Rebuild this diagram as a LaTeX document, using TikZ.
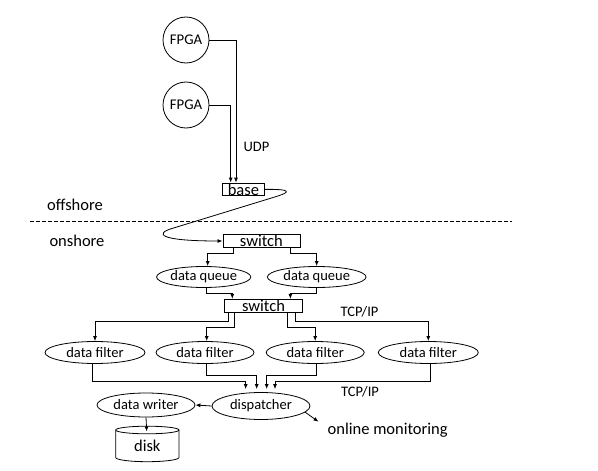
\documentclass[tikz,border=0pt]{standalone}
\usepackage{fontspec}
\setmainfont{Carlito}
\usetikzlibrary{shapes.geometric,arrows.meta}
\begin{document}
\begin{tikzpicture}[x=1pt,y=-1pt,
  line width=0.8pt,
  sm/.style={font=\fontsize{14.5}{16}\selectfont},
  bg/.style={font=\fontsize{16.5}{18}\selectfont},
  arr/.style={-{Latex[length=5pt,width=4pt]}},
  boxn/.style={draw,rectangle,inner sep=0pt,bg},
  ell/.style={draw,ellipse,inner sep=0pt,minimum height=22pt,sm},
  fpga/.style={draw,circle,inner sep=0pt,minimum size=46pt,font=\fontsize{14.8}{16}\selectfont}]
\useasboundingbox (0,0) rectangle (598,471);
% offshore
\node[fpga] (fp1) at (186,40) {FPGA};
\node[fpga] (fp2) at (186,105) {FPGA};
\node[boxn,minimum width=41.3pt,minimum height=12.7pt] (base) at (243.4,189.4) {base};
\node[sm] (udp) at (256.5,147) {UDP};
\draw[arr] (fp1.east) -| ([xshift=-7.4pt]base.north);
\draw[arr] (fp2.east) -| ([xshift=-12.7pt]base.north);
\node[bg] (off) at (75,205) {offshore};
\node[bg] (on) at (77,241) {onshore};
\coordinate (dl) at (30,221.7);
\coordinate (dr) at (512,221.7);
\draw[dash pattern=on 3.5pt off 2.5pt] (dl) -- (dr);
% onshore
\node[boxn,minimum width=77pt,minimum height=13.7pt] (sw1) at (261.4,241) {switch};
\coordinate (k1) at (278,196);
\coordinate (k2) at (172,228.5);
\draw[arr] (base.east) .. controls (292,189) and (290,192) .. (k1) -- (k2)
  .. controls (155,233.5) and (158,241) .. (sw1.west);
\node[ell,minimum width=94pt,minimum height=21pt] (q1) at (203.7,277) {data queue};
\node[ell,minimum width=98.7pt,minimum height=21pt] (q2) at (316.7,277) {data queue};
\draw[arr] ([xshift=10.6pt]sw1.south west) -- ++(0,5.6) -| ([xshift=4pt]q1.north);
\draw[arr] ([xshift=-10.3pt]sw1.south east) -- ++(0,5.6) -| (q2.north);
\node[boxn,minimum width=78.4pt,minimum height=13pt] (sw2) at (263.5,305.8) {switch};
\draw[arr] ([xshift=3pt]q1.south) -- ++(0,5.8) -| ([xshift=8.4pt]sw2.north west);
\draw[arr] (q2.south) -- ++(0,5.8) -| ([xshift=-12.7pt]sw2.north east);
\node[sm] (tcp1) at (359.5,312) {TCP/IP};
\node[ell,minimum width=100pt] (f1) at (95,352.5) {data filter};
\node[ell,minimum width=98pt] (f2) at (205,352.5) {data filter};
\node[ell,minimum width=98pt] (f3) at (315.2,352.5) {data filter};
\node[ell,minimum width=100pt] (f4) at (428.3,352.5) {data filter};
\draw[arr] ([xshift=4pt]sw2.south west) -- ++(0,8.4) -| (f1.north);
\draw[arr] ([xshift=10.7pt]sw2.south west) -- ++(0,15) -| ([xshift=1.7pt]f2.north);
\draw[arr] ([xshift=-15.4pt]sw2.south east) -- ++(0,15) -| (f3.north);
\draw[arr] ([xshift=-7.7pt]sw2.south east) -- ++(0,8.4) -| (f4.north);
\node[ell,minimum width=98pt,minimum height=27pt] (d) at (261,406) {dispatcher};
\draw[arr] ([xshift=-2.7pt]f1.south) -- ++(0,17) -| ([xshift=-15.3pt,yshift=3pt]d.north);
\draw[arr] ([xshift=1.7pt]f2.south) -- ++(0,11.5) -| ([xshift=-4.3pt,yshift=3pt]d.north);
\draw[arr] ([xshift=1.5pt]f3.south) -- ++(0,11.5) -| ([xshift=5.7pt,yshift=3pt]d.north);
\draw[arr] ([xshift=1.7pt]f4.south) -- ++(0,17) -| ([xshift=14pt,yshift=3pt]d.north);
\node[sm] (tcp2) at (360,392) {TCP/IP};
\node[ell,minimum width=98pt,minimum height=24pt] (dw) at (146,405) {data writer};
\draw[arr] (d.west) -- (dw.east);
% disk
\draw (147.3,430) ellipse [x radius=31.65, y radius=3.8];
\draw (115.7,430) -- (115.7,457.5) arc[start angle=180, end angle=0, x radius=31.65, y radius=4.2] -- (179,430);
\node[bg] (disk) at (147.3,446) {disk};
\coordinate (dtop) at (146.7,431.5);
\draw[arr] (dw.south) -- (dtop);
\node[bg,anchor=west] (om) at (324,430) {online monitoring};
\coordinate (omtip) at (318.5,421.7);
\draw[arr] (d.-8) -- (omtip);
\end{tikzpicture}
\end{document}
